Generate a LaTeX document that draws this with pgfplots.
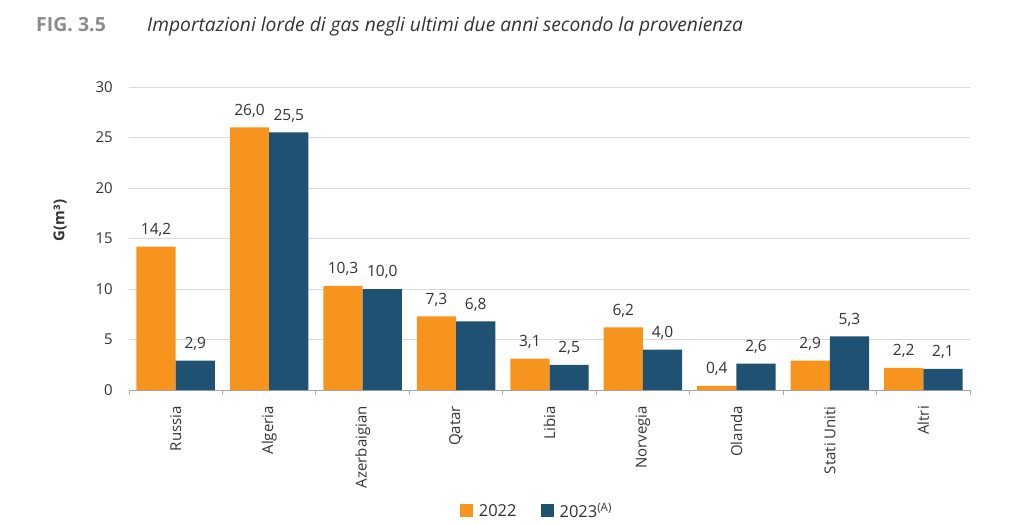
\documentclass[border=0pt]{standalone}
\usepackage{pgfplots}
\pgfplotsset{compat=1.18}
\usepackage{fontspec}
\setmainfont{Open Sans}
\definecolor{orng}{HTML}{F7941D}
\definecolor{navy}{HTML}{1F5272}
\definecolor{txt}{HTML}{333333}
\definecolor{gridc}{HTML}{D9D9D9}
\definecolor{axc}{HTML}{A6A6A6}
\definecolor{figc}{HTML}{8C8C8C}
\begin{document}
\begin{tikzpicture}[x=1pt,y=1pt]
\useasboundingbox (0,0) rectangle (1024,523);
\node[anchor=base west, inner sep=0pt, font=\fontsize{19.5}{21}\selectfont\bfseries, text=figc] at (36,491) {FIG. 3.5};
\node[anchor=base west, inner sep=0pt, font=\fontsize{19.2}{21}\selectfont\itshape, text=txt] at (147,491) {Importazioni lorde di gas negli ultimi due anni secondo la provenienza};
\begin{axis}[
  at={(129pt,133pt)}, anchor=south west,
  scale only axis, width=841pt, height=303pt,
  ybar=0pt, bar width=0.42,
  xmin=-0.5, xmax=8.5, ymin=0, ymax=30,
  ytick={0,5,...,30},
  xtick={0,...,8},
  xticklabels={Russia,Algeria,Azerbaigian,Qatar,Libia,Norvegia,Olanda,Stati Uniti,Altri},
  minor xtick={-0.5,0.5,...,8.5},
  major tick length=0pt, minor tick length=5pt,
  xtick align=outside,
  every tick/.style={axc, line width=1pt},
  axis x line*=bottom, axis y line*=left,
  y axis line style={draw=none},
  x axis line style={axc, line width=1pt},
  ymajorgrids, grid style={gridc, line width=1pt},
  tick label style={font=\fontsize{15}{17}\selectfont, text=txt},
  xticklabel style={rotate=90, anchor=east, inner sep=0pt},
  xticklabel shift=16pt,
  yticklabel style={inner sep=0pt, /pgf/number format/assume math mode=true},
  yticklabel shift=16pt,
  ylabel={G(m³)},
  every axis y label/.style={at={(axis description cs:-0.082,0.56)}, rotate=90, anchor=center, font=\fontsize{15}{17}\selectfont\bfseries, text=txt},
  nodes near coords={\pgfmathprintnumber[use comma,fixed,fixed zerofill,precision=1,assume math mode=true]{\pgfplotspointmeta}},
  every node near coord/.append style={font=\fontsize{15.5}{17}\selectfont, text=txt, inner sep=0pt, yshift=10pt},
  legend style={at={(0.485,-0.40)}, anchor=center, draw=none, legend columns=2, font=\fontsize{16.5}{18}\selectfont, text=txt,
    /tikz/every even column/.append style={column sep=22pt}},
  legend image code/.code={\fill[#1] (0pt,-6pt) rectangle (13pt,7pt); \path (17pt,0pt);},
]
\addplot[fill=orng, draw=none] coordinates {(0,14.2) (1,26.0) (2,10.3) (3,7.3) (4,3.1) (5,6.2) (6,0.4) (7,2.9) (8,2.2)};
\addplot[fill=navy, draw=none] coordinates {(0,2.9) (1,25.5) (2,10.0) (3,6.8) (4,2.5) (5,4.0) (6,2.6) (7,5.3) (8,2.1)};
\legend{2022, 2023\textsuperscript{(A)}}
\end{axis}
\end{tikzpicture}
\end{document}
